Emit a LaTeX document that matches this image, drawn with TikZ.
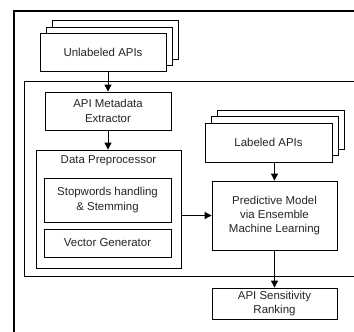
\documentclass[tikz,border=0pt]{standalone}
\usepackage{fontspec}
\setmainfont{Liberation Sans}
\usetikzlibrary{arrows.meta}
\tikzset{
  box/.style={draw=black, line width=0.8bp, fill=white, align=center, inner sep=1bp, font=\fontsize{11.5}{14.5}\selectfont, text=black!85},
  frameline/.style={draw=black, line width=0.8bp},
  arr/.style={-{Triangle[length=7bp,width=7bp]}, line width=0.9bp}
}
\begin{document}
\begin{tikzpicture}[x=1bp,y=-1bp]
\useasboundingbox (0,0) rectangle (354,332);
% outer frame
\draw[line width=1.8bp] (355,11) -- (14,11) -- (14,333);
% inner frame
\draw[frameline] (355,81) -- (24,81) -- (24,276) -- (355,276);
% unlabeled stack
\node[box, minimum width=126bp, minimum height=38.5bp] (u3) at (115,40) {};
\node[box, minimum width=126bp, minimum height=38.5bp] (u2) at (109,46.2) {};
\node[box, minimum width=126bp, minimum height=38.5bp] (u1) at (103,52.4) {Unlabeled APIs};
% extractor
\node[box, minimum width=126bp, minimum height=38bp] (ex) at (108,111) {API Metadata\\Extractor};
% data preprocessor
\node[box, minimum width=145bp, minimum height=118bp] (dp) at (108.5,209) {};
\node[font=\fontsize{11.5}{14.5}\selectfont, text=black!85] (dpl) at (108.5,161) {Data Preprocessor};
\node[box, minimum width=127bp, minimum height=44bp] (sw) at (107.5,200) {Stopwords handling\\\& Stemming};
\node[box, minimum width=127bp, minimum height=28bp] (vg) at (107.5,243) {Vector Generator};
% labeled stack
\node[box, minimum width=127bp, minimum height=39bp] (l3) at (280.5,129.6) {};
\node[box, minimum width=127bp, minimum height=39bp] (l2) at (274.5,136.1) {};
\node[box, minimum width=127bp, minimum height=39bp] (l1) at (268.5,142.6) {Labeled APIs};
% predictive
\node[box, minimum width=125bp, minimum height=69bp] (pm) at (274.5,215.5) {Predictive Model\\via Ensemble\\Machine Learning};
% sensitivity
\node[box, minimum width=125bp, minimum height=31bp] (sr) at (274.5,303.5) {API Sensitivity\\Ranking};
% arrows
\draw[arr] (u1.south -| ex.north) -- (ex.north);
\draw[arr] (ex.south) -- (ex.south |- dp.north);
\draw[arr] (dp.east |- pm.west) -- (pm.west);
\draw[arr] (l1.south -| pm.north) -- (pm.north);
\draw[arr] (pm.south) -- (sr.north);
\end{tikzpicture}
\end{document}
